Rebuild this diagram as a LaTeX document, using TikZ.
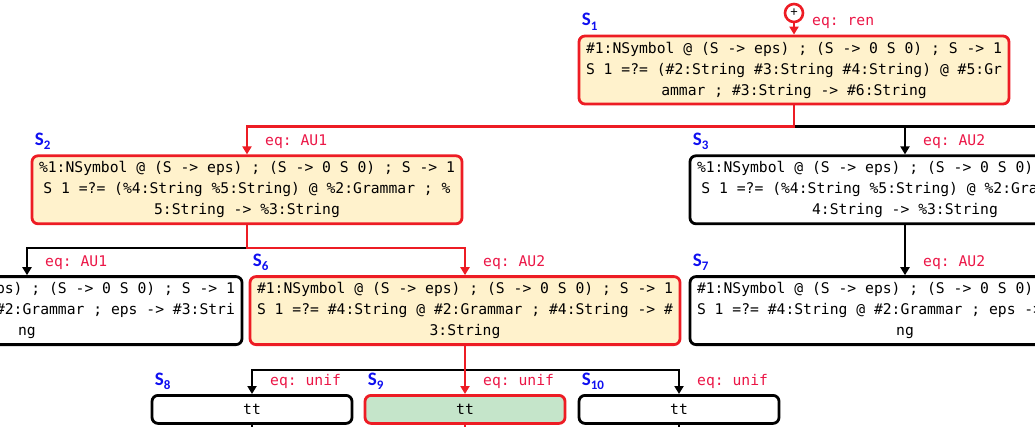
\documentclass[tikz,border=0pt]{standalone}
\usepackage{fontspec}
\setmonofont{DejaVu Sans Mono}
\newfontfamily\labelfont{Carlito}
\usetikzlibrary{positioning,arrows.meta}

\definecolor{hlred}{RGB}{237,28,36}
\definecolor{eqred}{RGB}{235,22,70}
\definecolor{stblue}{RGB}{15,15,240}
\definecolor{goalfill}{RGB}{255,242,204}
\definecolor{donefill}{RGB}{197,229,202}

\newcommand{\stlab}[1]{S\raisebox{-4.5pt}{\fontsize{13}{13}\selectfont #1}}

\tikzset{
    stbox/.style={draw, rounded corners=6pt, line width=2.8pt, fill=white,
        minimum width=430pt, minimum height=68pt, inner sep=0pt, align=center,
        font=\ttfamily\fontsize{14.7}{21}\selectfont},
    hlbox/.style={stbox, draw=hlred, fill=goalfill},
    leafbox/.style={stbox, minimum width=200pt, minimum height=28pt},
    stname/.style={text=stblue, anchor=base west, inner sep=0pt,
        font=\labelfont\bfseries\fontsize{19}{19}\selectfont},
    eqname/.style={text=eqred, anchor=base west, inner sep=0pt,
        font=\ttfamily\fontsize{14.7}{17}\selectfont},
    link/.style={line width=2.5pt, -{Triangle[width=9pt,length=8pt]}},
    hllink/.style={link, draw=hlred},
}

\begin{document}
\begin{tikzpicture}[x=1pt,y=1pt]
    \useasboundingbox (0,0) rectangle (1035,426);
    \clip (0,0) rectangle (1035,426);

    % root
    \node[circle, draw=hlred, line width=2.6pt, minimum size=18pt, inner sep=0pt,
        font=\labelfont\fontsize{14}{14}\selectfont] (root) at (794,413) {+};
    \node[hlbox] (s1) at (794,356) {\#1:NSymbol @ (S -> eps) ; (S -> 0 S 0) ; S -> 1\\
        S 1 =?= (\#2:String \#3:String \#4:String) @ \#5:Gr\\
        ammar ; \#3:String -> \#6:String};

    % second row
    \node[hlbox, below=49pt of s1, xshift=-547pt] (s2) {\%1:NSymbol @ (S -> eps) ; (S -> 0 S 0) ; S -> 1\\
        S 1 =?= (\%4:String \%5:String) @ \%2:Grammar ; \%\\
        5:String -> \%3:String};
    \node[stbox, below=49pt of s1, xshift=111pt] (s3) {\%1:NSymbol @ (S -> eps) ; (S -> 0 S 0) ; S -> 1\\
        S 1 =?= (\%4:String \%5:String) @ \%2:Grammar ; \%\\
        4:String -> \%3:String};
    \coordinate (s4) at (1250,273);

    % third row
    \node[stbox, below=50pt of s2, xshift=-220pt] (s5) {\#1:NSymbol @ (S -> eps) ; (S -> 0 S 0) ; S -> 1\\
        S 1 =?= \#4:String @ \#2:Grammar ; eps -> \#3:Stri\\
        ng};
    \node[hlbox, below=50pt of s2, xshift=218pt] (s6) {\#1:NSymbol @ (S -> eps) ; (S -> 0 S 0) ; S -> 1\\
        S 1 =?= \#4:String @ \#2:Grammar ; \#4:String -> \#\\
        3:String};
    \node[stbox, below=50pt of s3] (s7) {\#1:NSymbol @ (S -> eps) ; (S -> 0 S 0) ; S -> 1\\
        S 1 =?= \#4:String @ \#2:Grammar ; eps -> \#3:Stri\\
        ng};

    % leaves
    \node[leafbox, below=48pt of s6, xshift=-213pt] (s8) {tt};
    \node[leafbox, below=48pt of s6, draw=hlred, fill=donefill] (s9) {tt};
    \node[leafbox, below=48pt of s6, xshift=214pt] (s10) {tt};
    \coordinate[below=12pt of s8] (s8next);
    \coordinate[below=12pt of s9] (s9next);
    \coordinate[below=12pt of s10] (s10next);

    % names and equations
    \foreach \s/\n in {s1/1, s2/2, s3/3, s6/6, s7/7, s8/8, s9/9, s10/10}
        \node[stname] at ([xshift=4pt,yshift=9pt]\s.north west) {\stlab{\n}};
    \node[eqname] at ([xshift=18pt,yshift=9pt]s1.north) {eq: ren};
    \node[eqname] at ([xshift=18pt,yshift=9pt]s2.north) {eq: AU1};
    \node[eqname] at ([xshift=18pt,yshift=9pt]s3.north) {eq: AU2};
    \node[eqname] at ([xshift=18pt,yshift=9pt]s5.north) {eq: AU1};
    \node[eqname] at ([xshift=18pt,yshift=9pt]s6.north) {eq: AU2};
    \node[eqname] at ([xshift=18pt,yshift=9pt]s7.north) {eq: AU2};
    \foreach \s in {s8, s9, s10}
        \node[eqname] at ([xshift=18pt,yshift=9pt]\s.north) {eq: unif};

    % edges
    \draw[link] (s1.south) -- ++(0,-21) -| (s3.north);
    \draw[link] (s1.south) -- ++(0,-21) -| (s4);
    \draw[link] (s2.south) -- ++(0,-23) -| (s5.north);
    \draw[link] (s3.south) -- (s7.north);
    \draw[link] (s6.south) -- ++(0,-24) -| (s8.north);
    \draw[link] (s6.south) -- ++(0,-24) -| (s10.north);
    \draw[link] (s8.south) -- (s8next);
    \draw[link] (s10.south) -- (s10next);
    \draw[hllink] (root.south) -- (s1.north);
    \draw[hllink] (s1.south) -- ++(0,-21) -| (s2.north);
    \draw[hllink] (s2.south) -- ++(0,-23) -| (s6.north);
    \draw[hllink] (s6.south) -- (s9.north);
    \draw[hllink] (s9.south) -- (s9next);
\end{tikzpicture}
\end{document}
